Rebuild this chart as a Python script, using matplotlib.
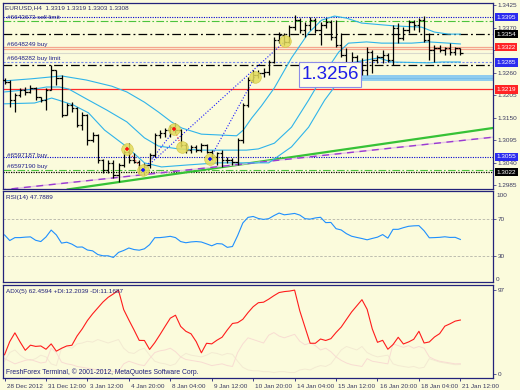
import matplotlib
matplotlib.use('Agg')
import matplotlib.pyplot as plt
import matplotlib.transforms as mtransforms
from matplotlib.patches import Rectangle
import numpy as np

plt.rcParams['font.family'] = ['Liberation Sans', 'DejaVu Sans']

# ---------------- data ----------------
opens = [1.3242, 1.3237, 1.3193, 1.3205, 1.3217, 1.3212, 1.3222, 1.3200, 1.3193, 1.3217,
         1.3266, 1.3247, 1.3157, 1.3181, 1.3174, 1.3132, 1.3157, 1.3096, 1.3108, 1.3047,
         1.3023, 1.3040, 1.3010, 1.3035, 1.3066, 1.3047, 1.3042, 1.3023, 1.3035, 1.3059,
         1.3108, 1.3113, 1.3120, 1.3127, 1.3120, 1.3083, 1.3071, 1.3078, 1.3071, 1.3083,
         1.3066, 1.3054, 1.3064, 1.3047, 1.3047, 1.3042, 1.3096, 1.3181, 1.3242, 1.3254,
         1.3259, 1.3262, 1.3286, 1.3340, 1.3352, 1.3335, 1.3371, 1.3388, 1.3364, 1.3376,
         1.3388, 1.3364, 1.3376, 1.3383, 1.3347, 1.3328, 1.3303, 1.3279, 1.3298, 1.3286,
         1.3266, 1.3310, 1.3291, 1.3298, 1.3303, 1.3291, 1.3369, 1.3345, 1.3364, 1.3383,
         1.3376, 1.3388, 1.3340, 1.3315, 1.3320, 1.3315, 1.3320, 1.3310, 1.3319]
highs = [1.3247, 1.3242, 1.3210, 1.3222, 1.3225, 1.3230, 1.3225, 1.3200, 1.3222, 1.3279,
         1.3266, 1.3254, 1.3186, 1.3188, 1.3176, 1.3164, 1.3160, 1.3115, 1.3110, 1.3049,
         1.3047, 1.3047, 1.3040, 1.3071, 1.3088, 1.3064, 1.3047, 1.3040, 1.3064, 1.3113,
         1.3120, 1.3125, 1.3132, 1.3137, 1.3122, 1.3088, 1.3083, 1.3083, 1.3088, 1.3085,
         1.3071, 1.3066, 1.3071, 1.3054, 1.3052, 1.3101, 1.3186, 1.3249, 1.3266, 1.3266,
         1.3271, 1.3291, 1.3347, 1.3359, 1.3357, 1.3376, 1.3401, 1.3393, 1.3383, 1.3396,
         1.3393, 1.3383, 1.3393, 1.3388, 1.3388, 1.3357, 1.3320, 1.3310, 1.3303, 1.3296,
         1.3323, 1.3315, 1.3303, 1.3315, 1.3308, 1.3376, 1.3381, 1.3371, 1.3388, 1.3388,
         1.3393, 1.3398, 1.3357, 1.3328, 1.3328, 1.3323, 1.3333, 1.3323, 1.3319]
lows = [1.3232, 1.3176, 1.3164, 1.3200, 1.3205, 1.3210, 1.3193, 1.3188, 1.3169, 1.3217,
        1.3230, 1.3152, 1.3157, 1.3164, 1.3127, 1.3120, 1.3083, 1.3091, 1.3040, 1.3015,
        1.3015, 1.3003, 1.2993, 1.3030, 1.3040, 1.3040, 1.3015, 1.3010, 1.3028, 1.3054,
        1.3101, 1.3103, 1.3103, 1.3113, 1.3078, 1.3064, 1.3064, 1.3066, 1.3066, 1.3064,
        1.3047, 1.3035, 1.3030, 1.3040, 1.3035, 1.3035, 1.3088, 1.3176, 1.3237, 1.3247,
        1.3249, 1.3254, 1.3284, 1.3333, 1.3328, 1.3333, 1.3364, 1.3357, 1.3347, 1.3364,
        1.3357, 1.3328, 1.3369, 1.3340, 1.3323, 1.3298, 1.3266, 1.3262, 1.3274, 1.3254,
        1.3254, 1.3259, 1.3284, 1.3284, 1.3286, 1.3279, 1.3333, 1.3340, 1.3357, 1.3364,
        1.3359, 1.3335, 1.3291, 1.3286, 1.3310, 1.3303, 1.3303, 1.3303, 1.3303]
closes = [1.3237, 1.3193, 1.3205, 1.3217, 1.3212, 1.3222, 1.3200, 1.3193, 1.3217, 1.3266,
          1.3247, 1.3157, 1.3181, 1.3174, 1.3132, 1.3157, 1.3096, 1.3108, 1.3047, 1.3023,
          1.3040, 1.3010, 1.3035, 1.3066, 1.3047, 1.3042, 1.3023, 1.3035, 1.3059, 1.3108,
          1.3113, 1.3120, 1.3127, 1.3120, 1.3083, 1.3071, 1.3078, 1.3071, 1.3083, 1.3066,
          1.3054, 1.3064, 1.3047, 1.3047, 1.3042, 1.3096, 1.3181, 1.3242, 1.3254, 1.3259,
          1.3262, 1.3286, 1.3340, 1.3352, 1.3335, 1.3371, 1.3388, 1.3364, 1.3376, 1.3388,
          1.3364, 1.3376, 1.3383, 1.3347, 1.3328, 1.3303, 1.3279, 1.3298, 1.3286, 1.3266,
          1.3310, 1.3291, 1.3298, 1.3303, 1.3291, 1.3369, 1.3345, 1.3364, 1.3383, 1.3376,
          1.3388, 1.3340, 1.3315, 1.3320, 1.3315, 1.3320, 1.3310, 1.3319, 1.3308]

# Bollinger bands (bar index, price)
bb_up_i = [0, 5.2, 11.0, 15.8, 20.7, 23.6, 27.0, 29.7, 32.2, 34.2, 38.0, 44.8, 46.1, 47.7,
           49.6, 52.1, 55.4, 58.7, 61.2, 63.7, 66.0, 68.9, 75.3, 80.5, 83.0, 85.7, 88]
bb_up_p = [1.3240, 1.3245, 1.3252, 1.3242, 1.3227, 1.3213, 1.3188, 1.3164, 1.3140, 1.3125,
           1.3110, 1.3106, 1.3120, 1.3149, 1.3179, 1.3223, 1.3296, 1.3357, 1.3388, 1.3398,
           1.3393, 1.3381, 1.3374, 1.3371, 1.3359, 1.3354, 1.3354]
bb_mid_i = [0, 5.8, 8.1, 10.6, 12.4, 15.8, 19.7, 23.6, 27.0, 29.7, 33.6, 38.0, 44.8, 46.7,
            49.0, 52.1, 55.4, 58.7, 61.8, 64.5, 66.4, 69.9, 72.8, 78.6, 81.9, 85.7, 88]
bb_mid_p = [1.3213, 1.3220, 1.3225, 1.3225, 1.3220, 1.3196, 1.3169, 1.3140, 1.3101, 1.3081,
            1.3074, 1.3071, 1.3071, 1.3071, 1.3074, 1.3088, 1.3127, 1.3193, 1.3259, 1.3310,
            1.3332, 1.3335, 1.3332, 1.3332, 1.3335, 1.3332, 1.3330]
bb_lo_i = [0, 5.8, 9.1, 10.4, 13.3, 16.2, 19.3, 23.6, 27.0, 30.3, 35.5, 41.3, 45.8, 51.0,
           55.4, 58.7, 61.8, 65.1, 67.0, 69.9, 72.2, 74.7, 81.9, 84.4, 88]
bb_lo_p = [1.3184, 1.3186, 1.3198, 1.3193, 1.3181, 1.3162, 1.3120, 1.3079, 1.3040, 1.3030,
           1.3035, 1.3040, 1.3040, 1.3040, 1.3079, 1.3127, 1.3193, 1.3249, 1.3284, 1.3291,
           1.3296, 1.3286, 1.3284, 1.3286, 1.3286]

rsi = [52.7, 46.6, 49.8, 49.8, 50.3, 50.6, 46.9, 45.5, 50.5, 58.0,
       52.7, 43.8, 44.8, 42.7, 39.4, 39.6, 36.3, 35.4, 31.4, 30.0,
       30.0, 28.2, 33.7, 35.8, 38.5, 36.8, 36.1, 37.6, 42.1, 49.7,
       49.8, 50.4, 51.2, 49.8, 45.5, 44.2, 45.1, 45.5, 45.0, 43.0,
       40.9, 43.3, 42.9, 39.2, 40.1, 52.0, 65.7, 71.8, 72.8, 70.6,
       69.6, 70.4, 73.7, 76.5, 74.6, 75.3, 76.1, 74.3, 70.4, 69.9,
       71.2, 71.9, 66.1, 66.3, 59.5, 58.1, 54.1, 51.3, 50.0, 48.8,
       47.4, 48.9, 50.3, 53.1, 49.2, 58.8, 58.8, 60.6, 62.1, 62.6,
       62.8, 57.2, 49.6, 49.8, 50.1, 50.7, 50.0, 50.1, 47.8]

adx = [22.5, 37.6, 47.7, 37.2, 27.6, 33.5, 32.1, 32.6, 28.8, 35.0,
       26.6, 29.9, 32.6, 33.4, 44.1, 52.3, 61.9, 69.6, 76.4, 83.2,
       88.6, 92.5, 96.7, 74.5, 62.5, 51.0, 39.0, 38.9, 28.6, 36.4,
       45.6, 55.2, 64.6, 68.0, 55.1, 49.5, 46.6, 37.6, 24.7, 35.7,
       35.0, 39.2, 42.7, 51.0, 58.5, 59.4, 63.3, 71.0, 77.8, 82.4,
       83.0, 86.5, 90.5, 94.1, 95.2, 95.8, 96.9, 73.0, 54.3, 35.7,
       35.7, 40.6, 38.9, 41.0, 48.1, 54.4, 63.1, 71.7, 78.8, 85.9,
       74.8, 52.1, 36.8, 39.1, 28.8, 34.2, 42.6, 34.9, 37.2, 40.3,
       49.5, 36.0, 37.2, 42.9, 46.8, 55.4, 58.1, 61.2, 62.46]
plus_di = [18, 15, 12, 14, 16, 17, 15, 13, 14, 30,
           25, 14, 12, 11, 9, 8, 7, 6, 5, 4,
           4, 3, 3, 12, 15, 13, 11, 10, 18, 25,
           27, 28, 30, 26, 20, 17, 16, 15, 14, 12,
           10, 11, 12, 10, 9, 25, 35, 42, 40, 38,
           36, 45, 48, 44, 42, 44, 46, 38, 34, 36,
           33, 28, 30, 26, 20, 16, 13, 11, 10, 9,
           18, 15, 14, 13, 12, 35, 33, 31, 33, 30,
           32, 30, 20, 17, 15, 14, 13, 12, 12.2]
minus_di = [15, 25, 28, 22, 18, 16, 18, 22, 20, 12,
            10, 30, 32, 30, 35, 36, 38, 37, 40, 38,
            36, 38, 40, 30, 25, 24, 28, 30, 22, 15,
            13, 12, 10, 12, 20, 24, 22, 21, 20, 22,
            25, 24, 22, 24, 23, 15, 8, 5, 4, 4,
            3, 3, 2, 3, 3, 2, 2, 5, 6, 5,
            8, 10, 9, 12, 20, 28, 32, 30, 28, 32,
            25, 22, 20, 21, 22, 12, 10, 9, 8, 9,
            7, 8, 18, 16, 14, 13, 12, 11, 11.2]

time_tick_bars = [0, 8, 16, 24, 32, 40, 48, 56, 64, 72, 80, 88]
time_labels = ['28 Dec 2012', '31 Dec 12:00', '3 Jan 12:00', '4 Jan 20:00', '8 Jan 04:00',
               '9 Jan 12:00', '10 Jan 20:00', '14 Jan 04:00', '15 Jan 12:00',
               '16 Jan 20:00', '18 Jan 04:00', '21 Jan 12:00']

# price scale ticks (1.3315 is hidden under the boxed labels in the reference)
price_ticks = [1.3425, 1.3370, 1.3315, 1.3260, 1.3205, 1.3150, 1.3095, 1.3040, 1.2985]
price_tick_labels = ['1.3425', '1.3370', '', '1.3260', '1.3205', '1.3150', '1.3095',
                     '1.3040', '1.2985']

# order lines
order_levels = [1.3395, 1.3322, 1.3285, 1.3055, 1.3023]
order_labels = ['#6643673 sell limit', '#6648249 buy', '#6648282 buy limit',
                '#6597187 buy', '#6597190 buy']
# stop / target levels
green_levels = [1.3386, 1.3023]
black_dashdot_levels = [1.3354, 1.3278]
black_dotted_level = 1.3017
red_level = 1.3219
salmon_levels = [1.3322, 1.3317]
bid_level = 1.3308

# boxed price labels on the right scale
box_levels = [1.3395, 1.3354, 1.3322, 1.3285, 1.3219, 1.3055, 1.3017]
box_texts = ['1.3395', '1.3354', '1.3322', '1.3285', '1.3219', '1.3055', '1.3022']
box_colors = ['#2b2bef', '#000000', '#ff2424', '#2b2bef', '#ff2424', '#2b2bef', '#000000']

# trade history markers
trade_i = [23.6, 26.8, 32.8, 34.2, 39.6, 48.3, 54.2]
trade_p = [1.3074, 1.3023, 1.3122, 1.3078, 1.3049, 1.3249, 1.3337]
trade_kind = ['sell', 'buy', 'sell', 'exit', 'buy', 'exit', 'exit']
trade_lines = [((26.8, 1.3023), (54.2, 1.3337), 'buy'),
               ((39.6, 1.3049), (48.3, 1.3249), 'buy'),
               ((27.4, 1.3032), (32.8, 1.3120), 'buy'),
               ((23.6, 1.3074), (26.4, 1.3027), 'sell'),
               ((32.8, 1.3122), (34.2, 1.3078), 'sell')]

# trend lines (two anchor points each)
green_trend = ((22, 1.2993), (45, 1.3035))
purple_trend = ((4.6, 1.2981), (94.6, 1.3103))

# price label object
label_value = '1.3256'
zone_lo, zone_hi = 1.3240, 1.3255

# ---------------- drawing ----------------
BG = '#fbfbdc'
NAVY = '#23237a'
TXT = '#3a3a60'
W, H = 520, 390

def rect(l, t, r, b):
    return [l / W, 1 - b / H, (r - l) / W, (b - t) / H]

fig = plt.figure(figsize=(5.2, 3.9), dpi=100, facecolor=BG)
axm = fig.add_axes(rect(3, 3, 493, 189))
axr = fig.add_axes(rect(3, 191, 493, 282))
axa = fig.add_axes(rect(3, 285, 493, 378))

FS = 4.6
for ax in (axm, axr, axa):
    ax.set_facecolor(BG)
    ax.set_xlim(-0.3, 94.3)
    for s in ax.spines.values():
        s.set_color(NAVY)
        s.set_linewidth(0.9)
    ax.yaxis.tick_right()
    ax.tick_params(axis='y', which='both', length=2, width=0.5, pad=1.5,
                   labelsize=FS, colors=TXT)
    ax.tick_params(axis='x', which='both', bottom=False, labelbottom=False)
    ax.tick_params(axis='y', colors=NAVY, labelcolor=TXT)

n = len(opens)
x = np.arange(n)

# main chart
axm.set_ylim(1.29762, 1.34299)
axm.set_yticks(price_ticks)
axm.set_yticklabels(price_tick_labels)

# horizontal levels
for lv in green_levels:
    axm.axhline(lv, color='#4cc43c', lw=0.8, dashes=(7, 2, 1.5, 2), zorder=1)
for lv in black_dashdot_levels:
    axm.axhline(lv, color='black', lw=0.9, dashes=(7, 2.5, 1.5, 2.5), zorder=1)
axm.axhline(black_dotted_level, color='black', lw=0.9, dashes=(1, 1), zorder=1)
axm.axhline(red_level, color='#ff2b2b', lw=0.9, zorder=1)
for lv in salmon_levels:
    axm.axhline(lv, color='#f5a68e', lw=0.9, zorder=1)
axm.axhline(bid_level, color='#d9d9cc', lw=0.8, zorder=1)
axm.axhline(order_levels[0], color='#0000d0', lw=0.8, dashes=(1, 1.2), zorder=1)
axm.axhline(order_levels[2], color='#7b8cf0', lw=0.8, dashes=(2, 1.5), zorder=1)
axm.axhline(order_levels[3], color='#0000d0', lw=0.8, dashes=(1, 1.2), zorder=1)

# zone band
axm.add_patch(Rectangle((56.8, zone_lo), 94.3 - 56.8, zone_hi - zone_lo,
                        facecolor='#90ccef', edgecolor='none', zorder=1))
axm.axhline((zone_lo + zone_hi) / 2, xmin=(56.8 + 0.3) / 94.6, color='#76bde8', lw=0.6, zorder=1)

# trend lines (rays)
def ray(a, b, x_end):
    (x0, y0), (x1, y1) = a, b
    k = (y1 - y0) / (x1 - x0)
    xs = np.array([x0 - 10, x_end])
    return xs, y0 + k * (xs - x0)

gx, gy = ray(green_trend[0], green_trend[1], 95)
axm.plot(gx, gy, color='#36c236', lw=1.6, zorder=2, solid_capstyle='butt')
px_, py_ = ray(purple_trend[0], purple_trend[1], 95)
axm.plot(px_, py_, color='#e6c6e6', lw=1.0, zorder=2)
axm.plot(px_, py_, color='#9a3bd0', lw=1.0, dashes=(5, 4), zorder=2)

# Bollinger bands
for bi, bp in ((bb_up_i, bb_up_p), (bb_mid_i, bb_mid_p), (bb_lo_i, bb_lo_p)):
    axm.plot(bi, bp, color='#2fb4ea', lw=0.8, zorder=3)

# trade lines
for (a, b, kind) in trade_lines:
    col = '#1a1aff' if kind == 'buy' else '#ff2020'
    axm.plot([a[0], b[0]], [a[1], b[1]], color=col, lw=0.8, dashes=(1, 1.6), zorder=3)

# OHLC bars
axm.vlines(x, lows, highs, color='black', lw=0.9, zorder=4)
axm.hlines(opens, x - 0.45, x, color='black', lw=0.9, zorder=4)
axm.hlines(closes, x, x + 0.45, color='black', lw=0.9, zorder=4)

# trade markers
axm.scatter(trade_i, trade_p, s=70, color='#e4dc5c', alpha=0.85, edgecolors='#cfc440',
            linewidths=0.5, zorder=5)
for ti, tp, tk in zip(trade_i, trade_p, trade_kind):
    if tk == 'sell':
        axm.plot(ti, tp, marker='+', color='#ff1010', ms=3.5, mew=1.1, zorder=6)
    elif tk == 'buy':
        axm.plot(ti, tp, marker='+', color='#1010ff', ms=3.5, mew=1.1, zorder=6)

# price label box
axm.add_patch(Rectangle((56.8, 1.3225), 12.1, 0.0061, facecolor='#fdfde8',
                        edgecolor='#8c8ce8', lw=0.8, zorder=7))
axm.text(62.85, 1.32555, label_value, ha='center', va='center', fontsize=13.5,
         color='#1e1ee8', family=['Liberation Sans', 'DejaVu Sans'], zorder=8)

# order labels
label_dy_px = [0, 2.5, 3.5, 1.0, 3.0]
for lv, lab, dy in zip(order_levels, order_labels, label_dy_px):
    axm.annotate(lab, xy=(0.2, lv), xytext=(1, dy * 0.72), textcoords='offset points',
                 fontsize=FS, color='#1f1f8a', va='center', ha='left', zorder=6)

axm.text(0.004, 0.975, 'EURUSD,H4  1.3319 1.3319 1.3303 1.3308', transform=axm.transAxes,
         fontsize=FS, color='#2c2c6a', va='center', ha='left')

# boxed right labels
btr = mtransforms.blended_transform_factory(axm.transAxes, axm.transData)
for lv, tx, col in zip(box_levels, box_texts, box_colors):
    axm.text(1.0 + 3.5 / 490, lv, tx, transform=btr, ha='left', va='center', fontsize=FS,
             color='white',
             bbox=dict(boxstyle='square,pad=0.25', fc=col, ec='none'), clip_on=False, zorder=10)

# RSI panel
axr.set_ylim(1.5, 100.5)
axr.set_yticks([70, 30])
axr.set_yticklabels(['70', '30'])
axr.axhline(70, color='#b4b4a8', lw=0.6, dashes=(3, 2))
axr.axhline(30, color='#b4b4a8', lw=0.6, dashes=(3, 2))
axr.plot(x, rsi, color='#1e8fff', lw=0.8)
axr.text(1.0 + 3 / 490, 0.955, '100', transform=axr.transAxes, fontsize=FS, color=TXT,
         va='center', ha='left')
axr.text(1.0 + 3 / 490, 0.03, '0', transform=axr.transAxes, fontsize=FS, color=TXT,
         va='center', ha='left')
axr.text(0.006, 0.93, 'RSI(14) 47.7889', transform=axr.transAxes, fontsize=FS,
         color='#1f1f7a', va='center', ha='left')

# ADX panel
axa.set_ylim(-4.3, 102.8)
axa.set_yticks([97, 0])
axa.set_yticklabels(['97', '0'])
axa.plot(x, minus_di, color='#f3ead2', lw=0.7)
axa.plot(x, plus_di, color='#f8dcd2', lw=0.7)
axa.plot(x, adx, color='#ff1c1c', lw=0.8)
axa.text(0.006, 0.925, 'ADX(5) 62.4594 +DI:12.2039 -DI:11.1687', transform=axa.transAxes,
         fontsize=FS, color='#1f1f7a', va='center', ha='left')
axa.text(0.006, 0.06, 'FreshForex Terminal, \u00a9 2001-2012, MetaQuotes Software Corp.',
         transform=axa.transAxes, fontsize=FS + 0.3, color='#1f1f7a', va='center', ha='left')

# time axis
axa.set_xticks(time_tick_bars)
axa.tick_params(axis='x', bottom=True, labelbottom=True, length=2.5, width=0.6,
                colors=NAVY, labelcolor=TXT, labelsize=FS, pad=1.5)
axa.set_xticklabels(time_labels, ha='left')
offset = mtransforms.ScaledTranslation(1.5 / 72, 0, fig.dpi_scale_trans)
for lab in axa.get_xticklabels():
    lab.set_transform(lab.get_transform() + offset)

fig.savefig('out.png', dpi=100, facecolor=BG)
